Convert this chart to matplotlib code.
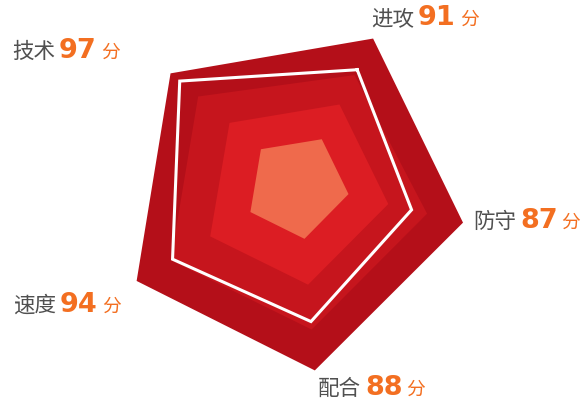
import numpy as np
import matplotlib as mpl
mpl.use('agg')
import matplotlib.pyplot as plt

# radar axes, clockwise from the top one
names = ['进攻', '防守', '配合', '速度', '技术']
scores = [91, 87, 88, 94, 97]

# decorative background layers, radius along each axis (px)
layer_outer = [161, 168, 189, 191, 169]
layer_mid = [120, 131, 148, 151, 133]
layer_inner = [87, 91, 103, 105, 92]
layer_core = [48, 50, 57, 58, 51]
# white score outline (px)
score_line = [126, 115, 140, 149, 157]

layer_colors = ['#b40f19', '#c6151d', '#dc1d23', '#ef6a4c']

# chart geometry (the radar is drawn rotated)
cx, cy = 300, 182
axis_deg = np.radians([63, -14, -85.5, -148.8, 140])

# label anchors: left x, vertical centre
label_pos = [(371, 19), (473, 222), (318, 389), (13, 306), (12, 52)]


def to_xy(r):
    r = np.asarray(r, dtype=float)
    return cx + r*np.cos(axis_deg), cy - r*np.sin(axis_deg)


fig = plt.figure(figsize=(5.88, 4.05), dpi=100)
ax = fig.add_axes([0, 0, 1, 1])
ax.set_xlim(0, 588)
ax.set_ylim(405, 0)
ax.axis('off')

for r, c in zip([layer_outer, layer_mid, layer_inner, layer_core], layer_colors):
    x, y = to_xy(r)
    ax.fill(x, y, color=c, lw=0)

x, y = to_xy(score_line)
ax.plot(np.append(x, x[0]), np.append(y, y[0]), color='white', lw=2.2,
        solid_joinstyle='miter')

cjk = ['Noto Sans CJK SC', 'DejaVu Sans']
orange = '#f36f21'
fig.canvas.draw()
renderer = fig.canvas.get_renderer()
inv = ax.transData.inverted()

for name, score, (lx, ly) in zip(names, scores, label_pos):
    t1 = ax.text(lx, ly, name, family=cjk, fontsize=15.5, color='#505050',
                 ha='left', va='center')
    bb = inv.transform(t1.get_window_extent(renderer))
    t2 = ax.text(bb[1][0] + 4, ly - 1, str(score), family='DejaVu Sans',
                 fontweight='bold', fontsize=19.5, color=orange,
                 ha='left', va='center')
    bb = inv.transform(t2.get_window_extent(renderer))
    ax.text(bb[1][0] + 4, ly, '分', family=cjk, fontsize=13.5, color=orange,
            ha='left', va='center')

fig.savefig('out.png', dpi=100)
